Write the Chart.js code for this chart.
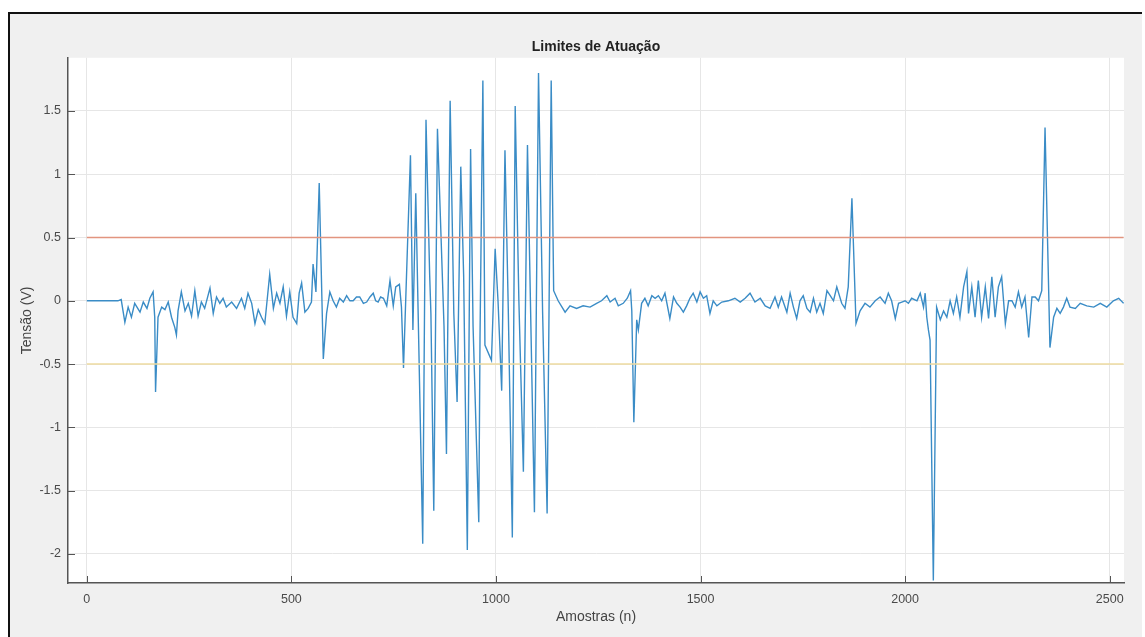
<!DOCTYPE html>
<html>
<head>
<meta charset="utf-8">
<script src="https://cdn.jsdelivr.net/npm/chart.js@4.4.1/dist/chart.umd.min.js"></script>
<style>
    html, body { margin: 0; padding: 0; background: #ffffff; }
    .frame {
        position: absolute; left: 8px; top: 12px; width: 1132px; height: 640px;
        border-left: 2px solid #111; border-top: 2px solid #111;
        background: #f0f0f0;
    }
    .wrap { position: absolute; left: 0; top: 0; width: 1145px; height: 637px; }
</style>
</head>
<body>
<div class="frame"></div>
<div class="wrap"><canvas id="chart"></canvas></div>
<script>
// amostras (n) e tensão (V)
const amostras = [
    0, 76, 84, 93, 101, 109, 117, 130, 138, 147, 154, 162, 166, 168, 174, 183, 191, 199, 207, 215,
    219, 223, 231, 240, 248, 256, 264, 272, 280, 288, 301, 309, 317, 325, 333, 341, 354, 366, 378, 386,
    394, 403, 411, 419, 427, 435, 447, 456, 464, 472, 480, 488, 496, 504, 513, 519, 525, 533, 541, 549,
    553, 560, 568, 578, 586, 594, 602, 610, 618, 627, 635, 643, 651, 659, 667, 676, 684, 692, 700, 706,
    712, 718, 725, 733, 741, 749, 755, 764, 769, 774, 791, 797, 804, 821, 829, 838, 841, 848, 857, 873,
    879, 888, 897, 905, 914, 921, 930, 938, 944, 958, 961, 968, 973, 989, 998, 1005, 1014, 1022, 1030, 1040,
    1047, 1056, 1067, 1077, 1094, 1104, 1114, 1125, 1135, 1141, 1152, 1169, 1181, 1197, 1213, 1230, 1246, 1258, 1271, 1279,
    1291, 1299, 1311, 1321, 1329, 1332, 1337, 1344, 1348, 1356, 1364, 1372, 1381, 1389, 1397, 1405, 1413, 1425, 1434, 1442,
    1450, 1458, 1466, 1474, 1482, 1491, 1499, 1507, 1515, 1523, 1531, 1540, 1552, 1568, 1584, 1597, 1609, 1621, 1633, 1646,
    1658, 1670, 1682, 1690, 1698, 1711, 1719, 1727, 1735, 1743, 1751, 1760, 1768, 1776, 1784, 1792, 1800, 1809, 1817, 1825,
    1833, 1845, 1853, 1861, 1870, 1880, 1890, 1902, 1914, 1927, 1939, 1951, 1959, 1967, 1976, 1984, 1992, 2000, 2008, 2016,
    2029, 2037, 2045, 2049, 2053, 2057, 2061, 2069, 2077, 2086, 2094, 2102, 2110, 2118, 2126, 2134, 2143, 2151, 2155, 2163,
    2171, 2179, 2187, 2196, 2204, 2212, 2220, 2228, 2236, 2245, 2253, 2261, 2269, 2277, 2285, 2293, 2302, 2310, 2318, 2326,
    2334, 2342, 2354, 2363, 2371, 2379, 2387, 2395, 2403, 2416, 2428, 2444, 2461, 2477, 2493, 2509, 2522, 2534
];
const tensao = [
    0, 0, 0.01, -0.17, -0.05, -0.13, -0.02, -0.09, -0.01, -0.06, 0.02, 0.07, -0.13, -0.72, -0.13, -0.05, -0.07, -0.01, -0.13, -0.21,
    -0.27, -0.08, 0.07, -0.08, -0.02, -0.12, 0.08, -0.12, -0.01, -0.06, 0.1, -0.1, 0.03, -0.02, 0.02, -0.05, -0.01, -0.06, 0.02, -0.06,
    0.06, -0.02, -0.18, -0.07, -0.13, -0.18, 0.21, -0.06, 0.06, -0.02, 0.11, -0.12, 0.07, -0.13, -0.18, 0.06, 0.14, -0.09, -0.06, -0.01,
    0.29, 0.07, 0.93, -0.46, -0.1, 0.07, 0, -0.05, 0.02, -0.01, 0.04, 0, 0, 0.03, 0.03, -0.02, -0.01, 0.03, 0.06, 0,
    -0.01, 0.03, 0.02, -0.04, 0.16, -0.04, 0.11, 0.13, -0.05, -0.53, 1.15, -0.23, 0.85, -1.92, 1.43, 0.2, -0.1, -1.66, 1.36, -0.2,
    -1.21, 1.58, -0.1, -0.8, 1.06, 0.2, -1.97, 1.2, -0.2, -1.75, -0.3, 1.74, -0.35, -0.47, 0.41, 0, -0.71, 1.19, -0.05, -1.87,
    1.54, 0, -1.35, 1.23, -1.67, 1.8, -0.09, -1.68, 1.74, 0.08, 0, -0.09, -0.04, -0.06, -0.04, -0.05, -0.02, 0, 0.04, -0.01,
    0.02, -0.04, -0.02, 0.02, 0.08, -0.08, -0.96, -0.15, -0.23, -0.02, 0.02, -0.04, 0.04, 0.02, 0.04, 0, 0.06, -0.14, 0.03, -0.02,
    -0.05, -0.09, -0.04, 0.02, 0.06, -0.01, 0.07, 0.02, 0.04, -0.1, 0, -0.04, -0.01, 0, 0.02, -0.01, 0.02, 0.06, -0.01, 0.02,
    -0.04, -0.06, 0.03, -0.05, 0.03, -0.09, 0.06, -0.05, -0.14, 0, 0.04, -0.06, -0.09, 0.02, -0.09, -0.02, -0.1, 0.08, 0.04, 0,
    0.11, -0.02, -0.06, 0.11, 0.81, -0.18, -0.08, -0.02, -0.05, 0, 0.03, -0.02, 0.06, 0, -0.14, -0.02, -0.01, 0, -0.02, 0.02,
    0, 0.06, -0.05, 0.06, -0.13, -0.23, -0.31, -2.21, -0.05, -0.15, -0.08, -0.13, 0, -0.1, 0.03, -0.13, 0.11, 0.23, -0.1, 0.11,
    -0.13, 0.16, -0.13, 0.11, -0.14, 0.19, -0.13, 0.11, 0.19, -0.18, 0, 0, -0.05, 0.07, -0.05, 0.03, -0.29, 0.03, 0.03, 0,
    0.08, 1.37, -0.37, -0.13, -0.06, -0.1, -0.05, 0.02, -0.05, -0.06, -0.02, -0.04, -0.05, -0.02, -0.05, 0, 0.02, -0.02
];

// limites de atuação
const limiteN = [0, 2534];
const limiteSuperior = [0.5, 0.5];
const limiteInferior = [-0.5, -0.5];

const xTicks = [0, 500, 1000, 1500, 2000, 2500];
const yTicks = [-2, -1.5, -1, -0.5, 0, 0.5, 1, 1.5];

const fonte = "'Liberation Sans', Arial, sans-serif";

// fundo branco da área do gráfico + ticks para dentro (estilo MATLAB)
const matlabAxes = {
    id: "matlabAxes",
    beforeDraw(c) {
        const a = c.chartArea;
        c.ctx.save();
        c.ctx.fillStyle = "#ffffff";
        c.ctx.fillRect(a.left, a.top, a.right - a.left, a.bottom - a.top);
        c.ctx.restore();
    },
    afterDraw(c) {
        const ctx = c.ctx, a = c.chartArea;
        ctx.save();
        ctx.strokeStyle = "#555";
        ctx.lineWidth = 1;
        ctx.beginPath();
        yTicks.forEach(v => {
            const y = Math.round(c.scales.y.getPixelForValue(v)) + 0.5;
            ctx.moveTo(a.left, y);
            ctx.lineTo(a.left + 7, y);
        });
        xTicks.forEach(v => {
            const x = Math.round(c.scales.x.getPixelForValue(v)) + 0.5;
            ctx.moveTo(x, a.bottom);
            ctx.lineTo(x, a.bottom - 7);
        });
        ctx.stroke();
        ctx.restore();
    }
};

let chart;

function initChart() {
    const ctx = document.getElementById("chart").getContext("2d");

    chart = new Chart(ctx, {
        type: "line",
        data: {
            datasets: [
                {
                    label: "Sinal",
                    data: amostras.map((n, i) => ({ x: n, y: tensao[i] })),
                    borderColor: "#3a8cc6",
                    borderWidth: 1.4,
                    pointRadius: 0,
                    tension: 0,
                    order: 2
                },
                {
                    label: "Limite superior",
                    data: limiteN.map((n, i) => ({ x: n, y: limiteSuperior[i] })),
                    borderColor: "#e2957f",
                    borderWidth: 1.6,
                    pointRadius: 0,
                    order: 1
                },
                {
                    label: "Limite inferior",
                    data: limiteN.map((n, i) => ({ x: n, y: limiteInferior[i] })),
                    borderColor: "#eedba0",
                    borderWidth: 1.6,
                    pointRadius: 0,
                    order: 1
                }
            ]
        },
        options: {
            responsive: true,
            maintainAspectRatio: false,
            animation: false,
            layout: { padding: { left: 10, right: 21, top: 0, bottom: 0 } },
            plugins: {
                legend: { display: false },
                tooltip: { enabled: false },
                title: {
                    display: true,
                    text: "Limites de Atuação",
                    fullSize: false,
                    color: "#222",
                    font: { family: fonte, size: 14, weight: "bold" },
                    padding: { top: 39, bottom: 2 }
                }
            },
            scales: {
                x: {
                    type: "linear",
                    min: -46,
                    max: 2535,
                    afterBuildTicks: s => { s.ticks = xTicks.map(v => ({ value: v })); },
                    afterFit: s => { s.height = 54; },
                    grid: { color: "#e6e6e6", drawTicks: false },
                    border: { color: "#555", width: 1.5 },
                    ticks: {
                        color: "#4a4a4a",
                        padding: 9,
                        maxRotation: 0,
                        font: { family: fonte, size: 12.5 },
                        callback: v => String(v)
                    },
                    title: {
                        display: true,
                        text: "Amostras (n)",
                        color: "#444",
                        font: { family: fonte, size: 14 },
                        padding: { top: 0, bottom: 11 }
                    }
                },
                y: {
                    type: "linear",
                    min: -2.23,
                    max: 1.92,
                    afterBuildTicks: s => { s.ticks = yTicks.map(v => ({ value: v })); },
                    afterFit: s => { s.width = 58; },
                    grid: { color: "#e6e6e6", drawTicks: false },
                    border: { color: "#555", width: 1.5 },
                    ticks: {
                        color: "#4a4a4a",
                        padding: 7,
                        font: { family: fonte, size: 12.5 },
                        callback: v => String(v)
                    },
                    title: {
                        display: true,
                        text: "Tensão (V)",
                        color: "#444",
                        font: { family: fonte, size: 14 },
                        padding: { top: 9, bottom: 0 }
                    }
                }
            }
        },
        plugins: [matlabAxes]
    });
}

initChart();
</script>
</body>
</html>
